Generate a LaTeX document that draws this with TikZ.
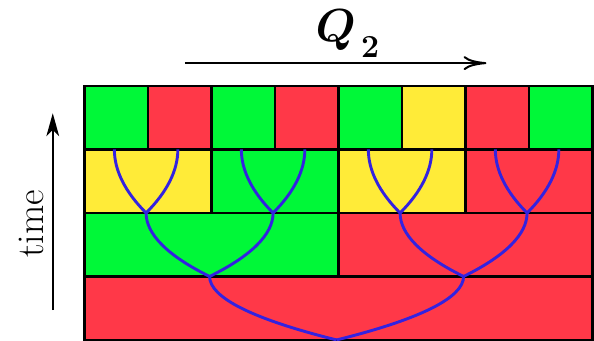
\documentclass[tikz,border=0pt]{standalone}
\usepackage{amsmath,amssymb}
\usepackage{xcolor}
\usepackage{tikz}
\usetikzlibrary{arrows.meta}
\definecolor{CellGreen}{HTML}{00F838}
\definecolor{CellRed}{HTML}{FF3848}
\definecolor{CellYellow}{HTML}{FFEB38}
\definecolor{TreeBlue}{HTML}{3322E0}
\tikzset{
  cell/.style={draw=black,line width=1.3pt},
  branch/.style={draw=TreeBlue,line width=1.3pt},
  axisflow/.style={-{To[length=3.6mm,width=2.2mm]},line width=0.9pt},
  timeflow/.style={-{Stealth[length=3.6mm,width=2mm,inset=1mm]},line width=0.9pt},
  label/.style={inner sep=0pt}
}

\begin{document}
\begin{tikzpicture}
  \useasboundingbox (-1.331,-0.016) rectangle (8.024,5.354);

  % cells, top row first
  \foreach \c [count=\i from 0] in {CellGreen,CellRed,CellGreen,CellRed,CellGreen,CellYellow,CellRed,CellGreen}
    \filldraw[cell,fill=\c] (\i,3) rectangle ++(1,1);
  \foreach \c [count=\i from 0] in {CellYellow,CellGreen,CellYellow,CellRed}
    \filldraw[cell,fill=\c] (2*\i,2) rectangle ++(2,1);
  \filldraw[cell,fill=CellGreen] (0,1) rectangle (4,2);
  \filldraw[cell,fill=CellRed] (4,1) rectangle (8,2);
  \filldraw[cell,fill=CellRed] (0,0) rectangle (8,1);

  % merge tree
  \begin{scope}[xshift=-0.03cm]
    \foreach \i in {1,...,8} \coordinate (l\i) at (\i-0.5,3);
    \foreach \i in {1,...,4} \coordinate (m\i) at (2*\i-1,2);
    \coordinate (n1) at (2,1);
    \coordinate (n2) at (6,1);
    \coordinate (root) at (4,0);
  \end{scope}
  \foreach \i [evaluate=\i as \a using int(2*\i-1), evaluate=\i as \b using int(2*\i)] in {1,...,4} {
    \draw[branch] (l\a) .. controls +(0,-0.33) and +(-0.33,0.33) .. (m\i);
    \draw[branch] (l\b) .. controls +(0,-0.33) and +(0.33,0.33) .. (m\i);
  }
  \draw[branch] (m1) .. controls +(0,-0.33) and +(-0.67,0.33) .. (n1);
  \draw[branch] (m2) .. controls +(0,-0.33) and +(0.67,0.33) .. (n1);
  \draw[branch] (m3) .. controls +(0,-0.33) and +(-0.67,0.33) .. (n2);
  \draw[branch] (m4) .. controls +(0,-0.33) and +(0.67,0.33) .. (n2);
  \draw[branch] (n1) .. controls +(0,-0.33) and +(-1.33,0.33) .. (root);
  \draw[branch] (n2) .. controls +(0,-0.33) and +(1.33,0.33) .. (root);

  % axes
  \coordinate (qstart) at (1.58,4.36);
  \coordinate (qend) at (6.33,4.36);
  \coordinate (tstart) at (-0.5,0.47);
  \coordinate (tend) at (-0.5,3.57);
  \draw[axisflow] (qstart) -- (qend);
  \draw[timeflow] (tstart) -- (tend);
  \node[label,font=\fontsize{19.5}{22}\selectfont] (qlabel) at (4.15,4.83)
    {$\boldsymbol{Q}_{\,\lower2.5pt\hbox{$\scriptstyle\boldsymbol{2}$}}$};
  \node[label,rotate=90,font=\fontsize{17}{19}\selectfont] (timelabel) at (-0.835,1.83) {time};
\end{tikzpicture}
\end{document}
